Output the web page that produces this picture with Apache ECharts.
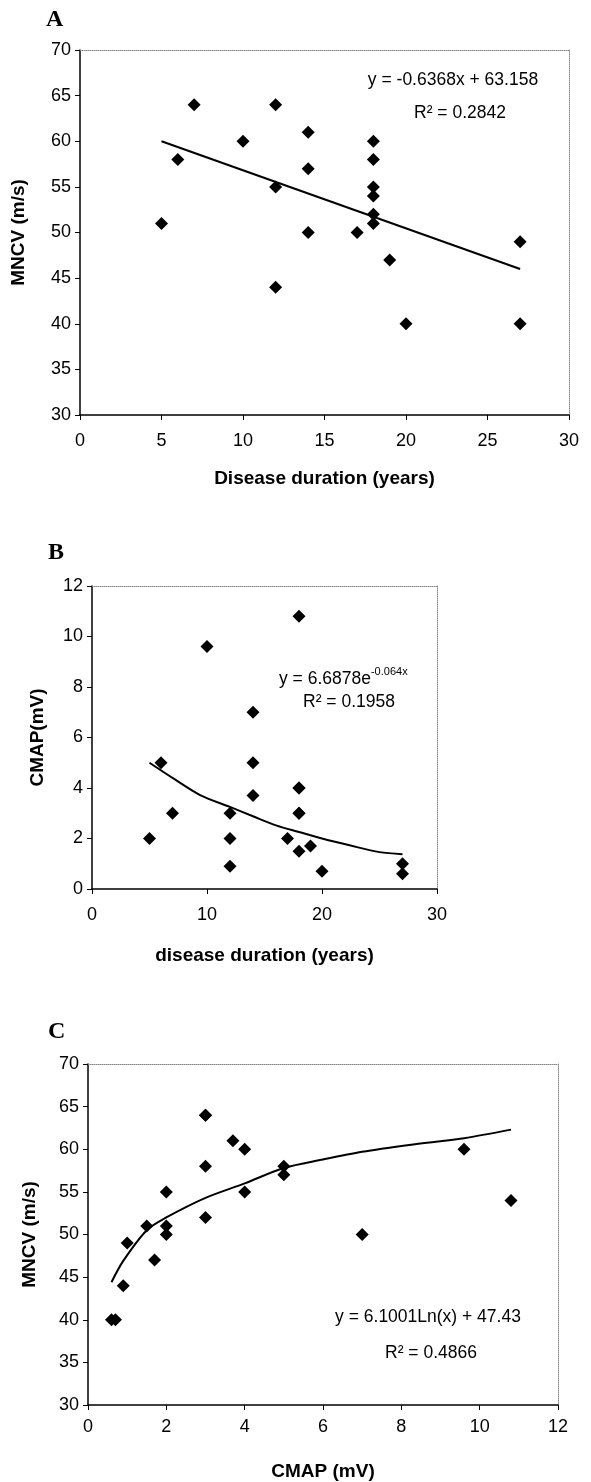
<!DOCTYPE html>
<html>
<head>
<meta charset="utf-8">
<script src="https://cdn.jsdelivr.net/npm/echarts@6/dist/echarts.min.js"></script>
<style>
html,body{margin:0;padding:0;background:#fff;}
#chart{width:591px;height:1482px;}
</style>
</head>
<body>
<div id="chart"></div>
<script>
// Patient data (each index is one patient)
const duration = [5, 6, 7, 10, 12, 12, 12, 14, 14, 14, 17, 18, 18, 18, 18, 18, 18, 19, 20, 27, 27];
const mncv     = [51, 58, 64, 60, 64, 55, 44, 61, 57, 50, 50, 60, 58, 55, 54, 52, 51, 47, 40, 49, 40];
const cmap     = [2, 5, 3, 9.6, 3, 2, 0.9, 3.7, 5, 7, 2, 4, 3, 4, 10.8, 3, 1.5, 1.7, 0.7, 1.0, 0.6];

// Trend lines
const trendA = [[5, 60.0], [27, 46.0]];
const trendB = [[5, 5.0], [7, 4.4], [9.4, 3.72], [12, 3.25], [14, 2.88], [16, 2.52], [18, 2.26], [20, 2.0], [22.4, 1.73], [25, 1.46], [27, 1.38]];
const trendC = [[0.6, 44.4], [0.9, 46.9], [1.5, 50.5], [2, 52.0], [3, 54.3], [4, 56.0], [5, 57.8], [6, 58.8], [7, 59.7], [8.2, 60.5], [9.6, 61.3], [10.8, 62.3]];

// Texts
const panelLetters = ['A', 'B', 'C'];
const eqA = ['y = -0.6368x + 63.158', 'R\u00b2 = 0.2842'];
const eqB = ['y = 6.6878e', '-0.064x', 'R\u00b2 = 0.1958'];
const eqC = ['y = 6.1001Ln(x) + 47.43', 'R\u00b2 = 0.4866'];
const axisTitles = {
  aX: 'Disease duration (years)', aY: 'MNCV (m/s)',
  bX: 'disease duration (years)', bY: 'CMAP(mV)',
  cX: 'CMAP (mV)', cY: 'MNCV (m/s)'
};

const FONT = 'Liberation Sans, Arial, sans-serif';

const chart = echarts.init(document.getElementById('chart'), null, {renderer: 'canvas'});

function mainX(grid, min, max, interval, name, gap, margin) {
  return {
    type: 'value', gridIndex: grid, position: 'bottom', min, max, interval,
    name, nameLocation: 'middle', nameGap: gap,
    nameTextStyle: {fontWeight: 'bold', fontSize: 19, fontFamily: FONT, color: '#000'},
    axisLine: {show: true, onZero: false, lineStyle: {color: '#000', width: 1.5}},
    axisTick: {show: true, inside: false, length: 5, lineStyle: {color: '#000', width: 1}},
    axisLabel: {show: true, margin: margin, fontSize: 18, fontFamily: FONT, color: '#000'},
    splitLine: {show: false}
  };
}
function mainY(grid, min, max, interval, name, gap) {
  return {
    type: 'value', gridIndex: grid, position: 'left', min, max, interval,
    name, nameLocation: 'middle', nameGap: gap, nameRotate: 90,
    nameTextStyle: {fontWeight: 'bold', fontSize: 19, fontFamily: FONT, color: '#000'},
    axisLine: {show: true, onZero: false, lineStyle: {color: '#000', width: 1.5}},
    axisTick: {show: true, inside: false, length: 5, lineStyle: {color: '#000', width: 1}},
    axisLabel: {show: true, margin: 9, fontSize: 18, fontFamily: FONT, color: '#000'},
    splitLine: {show: false}
  };
}
function borderAxis(kind, grid, min, max) {
  return {
    type: 'value', gridIndex: grid, position: kind === 'x' ? 'top' : 'right', min, max,
    axisLine: {show: true, onZero: false, lineStyle: {color: '#888', width: 1, type: 'dotted'}},
    axisTick: {show: false}, axisLabel: {show: false}, splitLine: {show: false}
  };
}

const scatterStyle = {symbol: 'diamond', symbolSize: 13, itemStyle: {color: '#000', opacity: 1}};
const lineStyle = {color: '#000', width: 2};

const option = {
  animation: false,
  backgroundColor: '#fff',
  grid: [
    {left: 80, top: 50, width: 489, height: 365},
    {left: 92, top: 586, width: 345, height: 303},
    {left: 88, top: 1064, width: 470, height: 342}
  ],
  xAxis: [
    mainX(0, 0, 30, 5, axisTitles.aX, 54, 17),
    borderAxis('x', 0, 0, 30),
    mainX(1, 0, 30, 10, axisTitles.bX, 57, 17),
    borderAxis('x', 1, 0, 30),
    mainX(2, 0, 12, 2, axisTitles.cX, 57, 13),
    borderAxis('x', 2, 0, 12)
  ],
  yAxis: [
    mainY(0, 30, 70, 5, axisTitles.aY, 52),
    borderAxis('y', 0, 30, 70),
    mainY(1, 0, 12, 2, axisTitles.bY, 45),
    borderAxis('y', 1, 0, 12),
    mainY(2, 30, 70, 5, axisTitles.cY, 49),
    borderAxis('y', 2, 30, 70)
  ],
  series: [
    Object.assign({type: 'scatter', xAxisIndex: 0, yAxisIndex: 0, data: duration.map((d, i) => [d, mncv[i]])}, scatterStyle),
    {type: 'line', xAxisIndex: 0, yAxisIndex: 0, data: trendA, showSymbol: false, lineStyle},
    Object.assign({type: 'scatter', xAxisIndex: 2, yAxisIndex: 2, data: duration.map((d, i) => [d, cmap[i]])}, scatterStyle),
    {type: 'line', xAxisIndex: 2, yAxisIndex: 2, data: trendB, showSymbol: false, smooth: 0.3, lineStyle},
    Object.assign({type: 'scatter', xAxisIndex: 4, yAxisIndex: 4, data: cmap.map((c, i) => [c, mncv[i]])}, scatterStyle),
    {type: 'line', xAxisIndex: 4, yAxisIndex: 4, data: trendC, showSymbol: false, smooth: 0.3, lineStyle}
  ],
  graphic: [
    {type: 'text', x: 46, y: 20, style: {text: panelLetters[0], font: 'bold 24px "Liberation Serif", serif', fill: '#000', textVerticalAlign: 'middle'}},
    {type: 'text', x: 48, y: 553, style: {text: panelLetters[1], font: 'bold 24px "Liberation Serif", serif', fill: '#000', textVerticalAlign: 'middle'}},
    {type: 'text', x: 48, y: 1032, style: {text: panelLetters[2], font: 'bold 24px "Liberation Serif", serif', fill: '#000', textVerticalAlign: 'middle'}},
    {type: 'text', x: 453, y: 80, style: {text: eqA[0], font: '17.5px ' + FONT, fill: '#000', textAlign: 'center', textVerticalAlign: 'middle'}},
    {type: 'text', x: 460, y: 113, style: {text: eqA[1], font: '17.5px ' + FONT, fill: '#000', textAlign: 'center', textVerticalAlign: 'middle'}},
    {type: 'text', x: 279, y: 677, style: {
      text: '{b|' + eqB[0] + '}{s|' + eqB[1] + '}', textVerticalAlign: 'middle',
      rich: {b: {fontSize: 17.5, fontFamily: FONT, lineHeight: 22, verticalAlign: 'bottom', fill: '#000'},
             s: {fontSize: 11, fontFamily: FONT, lineHeight: 22, verticalAlign: 'top', fill: '#000'}}}},
    {type: 'text', x: 303, y: 702, style: {text: eqB[2], font: '17.5px ' + FONT, fill: '#000', textVerticalAlign: 'middle'}},
    {type: 'text', x: 428, y: 1317, style: {text: eqC[0], font: '17.5px ' + FONT, fill: '#000', textAlign: 'center', textVerticalAlign: 'middle'}},
    {type: 'text', x: 431, y: 1353, style: {text: eqC[1], font: '17.5px ' + FONT, fill: '#000', textAlign: 'center', textVerticalAlign: 'middle'}}
  ]
};
chart.setOption(option);
</script>
</body>
</html>
